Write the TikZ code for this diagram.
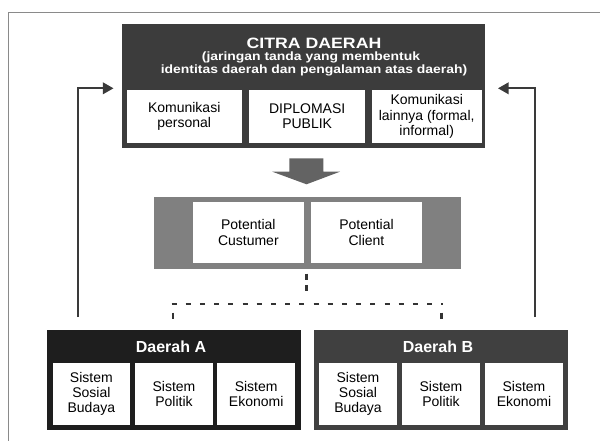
\documentclass[tikz,border=0pt]{standalone}
\usepackage{fontspec}
\setmainfont{Liberation Sans}
\newfontfamily\headfont{Liberation Sans}[FakeStretch=1.18]
\newfontfamily\subfont{Liberation Sans}[FakeStretch=1.16]
\usetikzlibrary{arrows.meta}
\definecolor{citragray}{HTML}{3C3C3C}
\definecolor{potgray}{HTML}{808080}
\definecolor{arrowgray}{HTML}{636363}
\definecolor{dagray}{HTML}{1E1E1E}
\definecolor{dbgray}{HTML}{404040}
\definecolor{linegray}{HTML}{3A3A3A}
\definecolor{framegray}{HTML}{8A8A8A}
\definecolor{dotgray}{HTML}{333333}
\begin{document}
\begin{tikzpicture}[x=1pt,y=-1pt,
  panel/.style={draw=none,inner sep=0pt,anchor=north west},
  cell/.style={fill=white,draw=none,inner sep=0pt,align=center,text=black,
    font=\fontsize{14}{15.2}\selectfont},
  headline/.style={text=white,inner sep=0pt,anchor=base},
  feedback/.style={draw=linegray,line width=1.7pt,
    -{Triangle[length=10.7pt,width=11.7pt]}},
  dotline/.style={draw=dotgray,line width=2.6pt}
]
\useasboundingbox (0,0) rectangle (600,441);

% outer frame
\draw[framegray,line width=1pt] (8.5,441) -- (8.5,12.3) -- (600,12.3);

% ---- CITRA DAERAH block ----
\node[panel,fill=citragray,minimum width=363.3pt,minimum height=124pt] (citra) at (121.7,24) {};
\node[headline,font=\headfont\bfseries\fontsize{15}{17}\selectfont] (ct1) at (314,48.8) {CITRA DAERAH};
\node[headline,font=\subfont\bfseries\fontsize{12}{13}\selectfont] (ct2) at (311,61) {(jaringan tanda yang membentuk};
\node[headline,font=\subfont\bfseries\fontsize{12}{13}\selectfont] (ct3) at (314,73.5) {identitas daerah dan pengalaman atas daerah)};
\node[cell,minimum width=115pt,minimum height=53pt] (kp) at (184.2,116.5) {Komunikasi\\personal};
\node[cell,minimum width=115.7pt,minimum height=53pt] (dp) at (307.15,116.5) {DIPLOMASI\\PUBLIK};
\node[cell,minimum width=110pt,minimum height=53pt] (kl) at (426.7,116.5) {Komunikasi\\lainnya (formal,\\informal)};

% big downward arrow
\fill[arrowgray] (289.3,158.3) -- (323.3,158.3) -- (323.3,171.7) -- (340,171.7)
  -- (306.5,184.3) -- (272.3,171.7) -- (289.3,171.7) -- cycle;

% ---- Potential block ----
\node[panel,fill=potgray,minimum width=306.7pt,minimum height=72.3pt] (pot) at (154,196.7) {};
\node[cell,minimum width=111.3pt,minimum height=61.6pt] (pcu) at (248.35,232.5) {Potential\\Custumer};
\node[cell,minimum width=111pt,minimum height=61.6pt] (pcl) at (366.5,232.5) {Potential\\Client};

% dotted branching
\coordinate (stem) at (306.7,273.5);
\coordinate (fork) at (306.7,291.8);
\coordinate (hl) at (171.5,304);
\coordinate (hr) at (443,304);
\coordinate (dl) at (173,312.5);
\coordinate (dr) at (441.5,312.5);
\draw[dotline,dash pattern=on 6pt off 5.3pt] (stem) -- (fork);
\draw[dotline,dash pattern=on 5pt off 9.2pt] (hl) -- (hr);
\draw[dotline] (dl) -- ++(0,6);
\draw[dotline] (dr) -- ++(0,6);

% ---- Daerah A ----
\node[panel,fill=dagray,minimum width=254pt,minimum height=100pt] (da) at (46.7,330) {};
\node[headline,font=\bfseries\fontsize{16}{18}\selectfont] (dat) at (171,352.5) {Daerah A};
\node[cell,minimum width=77.3pt,minimum height=61.7pt] (a1) at (91.35,394.15) {Sistem\\Sosial\\Budaya};
\node[cell,minimum width=77.4pt,minimum height=61.7pt] (a2) at (174,394.15) {Sistem\\Politik};
\node[cell,minimum width=77.7pt,minimum height=61.7pt] (a3) at (256.15,394.15) {Sistem\\Ekonomi};

% ---- Daerah B ----
\node[panel,fill=dbgray,minimum width=254pt,minimum height=100pt] (db) at (314,330) {};
\node[headline,font=\bfseries\fontsize{16}{18}\selectfont] (dbt) at (438,352.5) {Daerah B};
\node[cell,minimum width=77.4pt,minimum height=61.7pt] (b1) at (358,394.15) {Sistem\\Sosial\\Budaya};
\node[cell,minimum width=78pt,minimum height=61.7pt] (b2) at (441,394.15) {Sistem\\Politik};
\node[cell,minimum width=78pt,minimum height=61.7pt] (b3) at (524,394.15) {Sistem\\Ekonomi};

% feedback arrows back to the image block
\coordinate (fa) at (77.7,317);
\coordinate (fat) at (113.5,88.3);
\coordinate (fb) at (535,317);
\coordinate (fbt) at (498,88.3);
\draw[feedback] (fa) |- (fat);
\draw[feedback] (fb) |- (fbt);
\end{tikzpicture}
\end{document}
